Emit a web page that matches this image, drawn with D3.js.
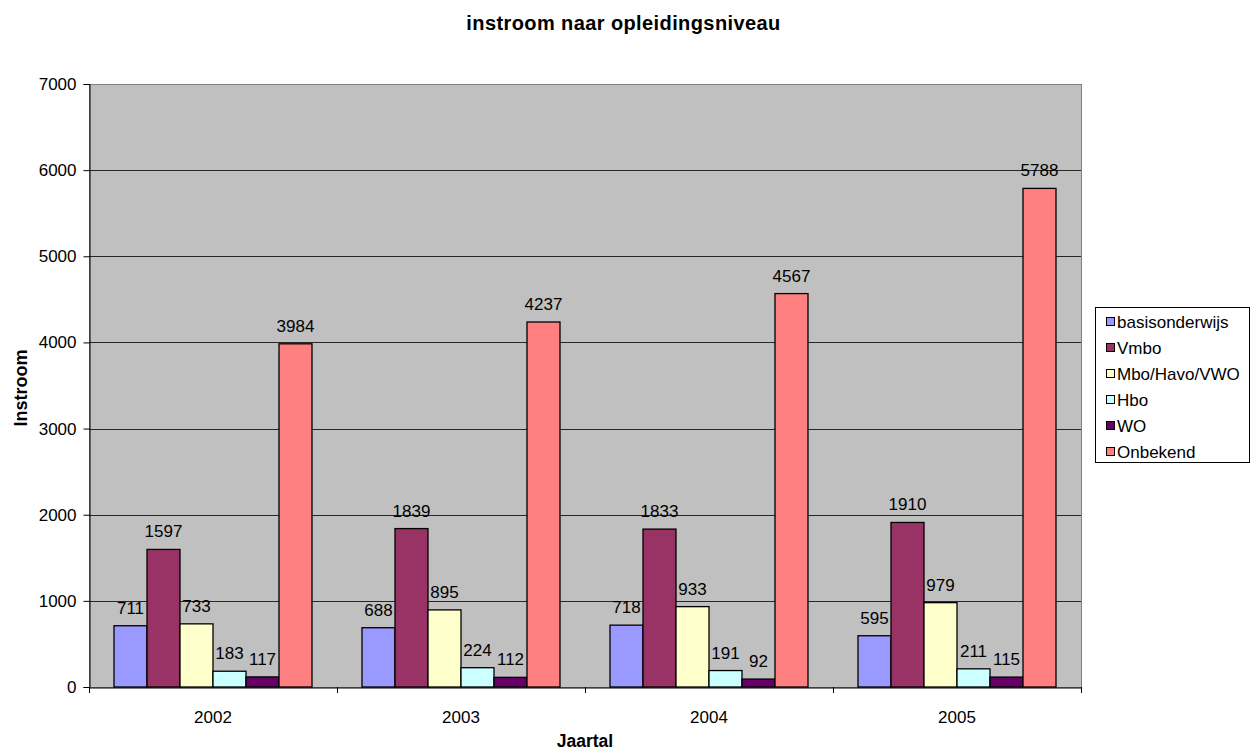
<!DOCTYPE html>
<html><head><meta charset="utf-8">
<script src="https://cdn.jsdelivr.net/npm/d3@7"></script>
<style>body{margin:0;background:#fff;} svg{display:block;font-family:"Liberation Sans",Arial,sans-serif;}</style>
</head><body>
<svg id="c" width="1256" height="751"></svg>
<script>
const years = ["2002","2003","2004","2005"];
const seriesNames = ["basisonderwijs","Vmbo","Mbo/Havo/VWO","Hbo","WO","Onbekend"];
const colors = ["#9999FF","#993366","#FFFFCC","#CCFFFF","#660066","#FF8080"];
const basisonderwijs = [711,688,718,595];
const vmbo = [1597,1839,1833,1910];
const mbo = [733,895,933,979];
const hbo = [183,224,191,211];
const wo = [117,112,92,115];
const onbekend = [3984,4237,4567,5788];
const yTicks = [0,1000,2000,3000,4000,5000,6000,7000];
const values = [basisonderwijs,vmbo,mbo,hbo,wo,onbekend];

const svg = d3.select("#c");
const L=89,R=1081,T=84,B=687;
const x = d3.scaleBand().domain(years).range([L,R]).paddingInner(0).paddingOuter(0);
const xs = d3.scaleBand().domain(seriesNames).range([25,x.bandwidth()-25]).paddingInner(0).paddingOuter(0);
const y = d3.scaleLinear().domain([0,7000]).range([B,T]);

svg.append("rect").attr("x",L+0.5).attr("y",T+0.5).attr("width",R-L).attr("height",B-T).attr("fill","#C0C0C0").attr("stroke","#808080").attr("stroke-width",1);
svg.append("g").selectAll("line").data(yTicks.slice(1,-1)).join("line")
  .attr("x1",L).attr("x2",R).attr("y1",d=>Math.round(y(d))+0.5).attr("y2",d=>Math.round(y(d))+0.5)
  .attr("stroke","#000").attr("stroke-width",1).attr("opacity",0.8);

const g = svg.append("g");
years.forEach((yr,i)=>{
  seriesNames.forEach((s,j)=>{
    const v = values[j][i];
    const bx = x(yr)+xs(s);
    g.append("rect").attr("x",bx).attr("y",y(v)).attr("width",xs.bandwidth()).attr("height",B-y(v))
      .attr("fill",colors[j]).attr("stroke","#000").attr("stroke-width",1.3);
    g.append("text").attr("x",bx+xs.bandwidth()/2).attr("y",y(v)-12).attr("text-anchor","middle")
      .attr("font-size",17).attr("fill","#000").text(v);
  });
});

const ya = svg.append("g").attr("transform",`translate(${L+0.5},0)`).call(d3.axisLeft(y).tickValues(yTicks).tickSize(6).tickPadding(7).tickFormat(d3.format("d")));
ya.selectAll("text").attr("font-size",17).attr("font-family","Liberation Sans, Arial, sans-serif");
ya.select(".domain").attr("stroke","#000");
const xa = svg.append("g").attr("transform",`translate(0,${B+0.5})`).call(d3.axisBottom(x).tickSize(0).tickPadding(23));
xa.selectAll("text").attr("font-size",17).attr("font-family","Liberation Sans, Arial, sans-serif");
xa.select(".domain").attr("stroke","#000");
svg.append("g").selectAll("line").data([0,1,2,3,4]).join("line")
  .attr("x1",d=>L+0.5+d*x.bandwidth()).attr("x2",d=>L+0.5+d*x.bandwidth()).attr("y1",B).attr("y2",B+6).attr("stroke","#000");

svg.append("text").attr("x",623.5).attr("y",30).attr("text-anchor","middle").attr("font-weight","bold").attr("font-size",20).attr("letter-spacing",0.4).text("instroom naar opleidingsniveau");
svg.append("text").attr("x",585).attr("y",747).attr("text-anchor","middle").attr("font-weight","bold").attr("font-size",17.5).text("Jaartal");
svg.append("text").attr("transform","translate(27,388) rotate(-90)").attr("text-anchor","middle").attr("font-weight","bold").attr("font-size",18).text("Instroom");

const lg = svg.append("g");
lg.append("rect").attr("x",1095.5).attr("y",307.5).attr("width",154).attr("height",155).attr("fill","#fff").attr("stroke","#000");
seriesNames.forEach((s,j)=>{
  const cy = 322 + j*26;
  lg.append("rect").attr("x",1106.5).attr("y",cy-4.5).attr("width",8).attr("height",8).attr("fill",colors[j]).attr("stroke","#000");
  lg.append("text").attr("x",1117).attr("y",cy+6).attr("font-size",17).text(s);
});
</script>
</body></html>
